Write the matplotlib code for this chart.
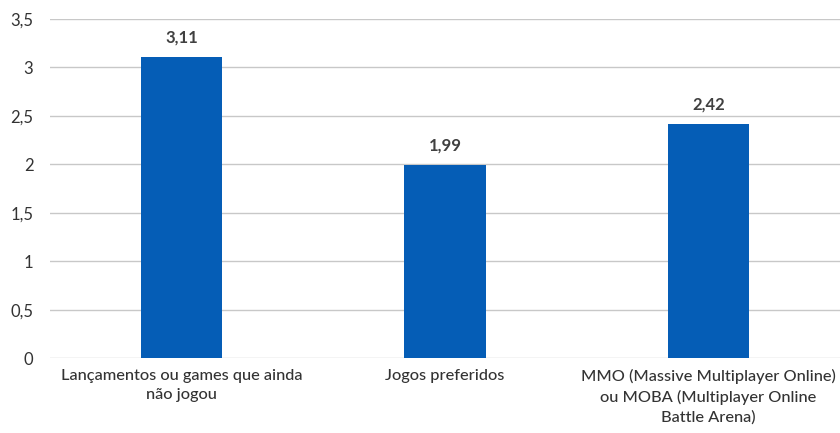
import matplotlib
matplotlib.use("Agg")
import matplotlib.pyplot as plt
from matplotlib.ticker import FuncFormatter

categories = [
    "Lançamentos ou games que ainda\nnão jogou",
    "Jogos preferidos",
    "MMO (Massive Multiplayer Online)\nou MOBA (Multiplayer Online\nBattle Arena)",
]
values = [3.11, 1.99, 2.42]
yticks = [0, 0.5, 1, 1.5, 2, 2.5, 3, 3.5]

plt.rcParams["font.family"] = ["Lato", "DejaVu Sans"]

fig = plt.figure(figsize=(8.4, 4.33), dpi=100)
ax = fig.add_axes([0.0595, 0.173, 0.9405, 0.783])

x = list(range(len(categories)))
bars = ax.bar(x, values, width=0.31, color="#055DB6", zorder=3)

for b, v in zip(bars, values):
    ax.text(b.get_x() + b.get_width() / 2, v + 0.12, f"{v:.2f}".replace(".", ","),
            ha="center", va="bottom", fontsize=12, fontweight="bold", color="#404040")

ax.set_xlim(-0.5, len(categories) - 0.5)
ax.set_ylim(0, 3.5)
ax.set_yticks(yticks)
ax.yaxis.set_major_formatter(FuncFormatter(lambda v, _: f"{v:g}".replace(".", ",")))
ax.set_xticks(x)
ax.set_xticklabels(categories, fontsize=11.8, color="#333333", linespacing=1.45,
                   fontweight="medium")
ax.tick_params(axis="y", labelsize=12, colors="#333333", length=0, pad=12)
ax.tick_params(axis="x", length=0, pad=8)
ax.grid(axis="y", color="#C8C8C8", linewidth=1, zorder=0)
for s in ax.spines.values():
    s.set_visible(False)

fig.savefig("out.png", dpi=100)
